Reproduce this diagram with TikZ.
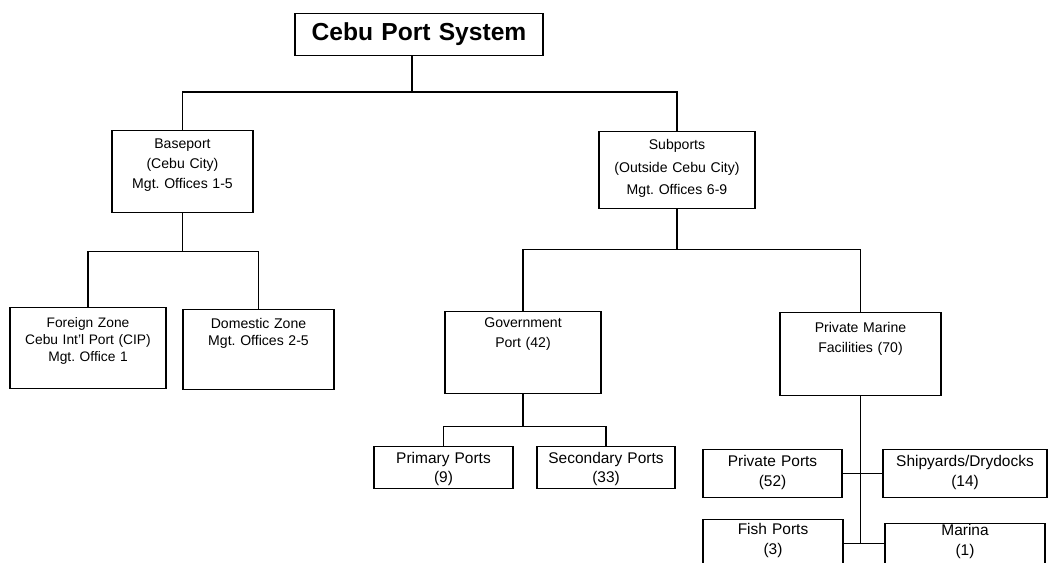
\documentclass[tikz,border=0pt]{standalone}
\usepackage{fontspec}
\setmainfont{Liberation Sans}
\usetikzlibrary{calc}
\frenchspacing
\begin{document}
\begin{tikzpicture}[x=0.025cm,y=-0.025cm]
  \tikzstyle{box}=[draw, line width=0.9pt, inner sep=0pt, align=center, anchor=north, font=\fontsize{10}{14}\selectfont]
  \tikzstyle{leaf}=[box, font=\fontsize{11}{14}\selectfont]
  \tikzstyle{link}=[line width=0.9pt]
  \useasboundingbox (0,0) rectangle (1049,562);

  % topo
  \node[box, font=\bfseries\fontsize{17.5}{20}\selectfont, text width=6.2cm, text height=0.675cm, text depth=0.375cm] (sys) at (419,13) {Cebu Port System};

  % baseport e subports
  \node[box, font=\fontsize{10}{14}\selectfont, text width=3.525cm, text height=0.45cm, text depth=1.6cm] (base) at (182.5,130) {Baseport\\(Cebu City)\\Mgt. Offices 1-5};
  \node[box, font=\fontsize{10}{16}\selectfont, text width=3.9cm, text height=0.45cm, text depth=1.475cm] (sub) at (677,131) {Subports\\(Outside Cebu City)\\Mgt. Offices 6-9};

  % zonas
  \node[box, font=\fontsize{9.8}{12}\selectfont, text width=3.9cm, text height=0.5cm, text depth=1.525cm] (for) at (88,307) {Foreign Zone\\Cebu Int'l Port (CIP)\\Mgt. Office 1};
  \node[box, font=\fontsize{10}{12}\selectfont, text width=3.775cm, text height=0.475cm, text depth=1.525cm] (dom) at (258.5,309) {Domestic Zone\\Mgt. Offices 2-5};

  % portos fora da cidade
  \node[box, text width=3.9cm, text height=0.4cm, text depth=1.65cm] (gov) at (523,311) {Government\\Port (42)};
  \node[box, text width=4.025cm, text height=0.5cm, text depth=1.575cm] (pm) at (860.5,312) {Private Marine\\Facilities (70)};

  % folhas
  \node[leaf, font=\fontsize{11}{13.5}\selectfont, text width=3.475cm, text height=0.425cm, text depth=0.625cm] (prim) at (443.5,446) {Primary Ports\\(9)};
  \node[leaf, font=\fontsize{11}{13.5}\selectfont, text width=3.45cm, text height=0.425cm, text depth=0.625cm] (sec) at (606,446) {Secondary Ports\\(33)};
  \node[leaf, text width=3.475cm, text height=0.425cm, text depth=0.775cm] (pp) at (772.5,449) {Private Ports\\(52)};
  \node[leaf, text width=4.1cm, text height=0.425cm, text depth=0.775cm] (ship) at (965,449) {Shipyards/Drydocks\\(14)};
  \node[leaf, text width=3.5cm, text height=0.375cm, text depth=0.825cm] (fish) at (773,519) {Fish Ports\\(3)};
  \node[leaf, text width=4cm, text height=0.3cm, text depth=0.9cm] (mar) at (965,523) {Marina\\(1)};

  % ligacoes
  \coordinate (j1) at (412,92);
  \coordinate (j2) at ($(base.south)+(0,38)$);
  \coordinate (j3) at ($(sub.south)+(0,40)$);
  \coordinate (j4) at ($(gov.south)+(0,32)$);
  \draw[link] (sys.south -| j1) -- (j1);
  \draw[link] (base.north) |- (j1) -| (sub.north);
  \draw[link] (base.south) -- (j2);
  \draw[link] (for.north) |- (j2) -| (dom.north);
  \draw[link] (sub.south) -- (j3);
  \draw[link] (gov.north) |- (j3) -| (pm.north);
  \draw[link] (gov.south) -- (j4);
  \draw[link] (prim.north) |- (j4) -| (sec.north);
  \draw[link] (pm.south) -- (pm.south |- fish.east);
  \draw[link] (pp.east) -- (ship.west);
  \draw[link] (fish.east) -- (fish.east -| mar.west);
\end{tikzpicture}
\end{document}
